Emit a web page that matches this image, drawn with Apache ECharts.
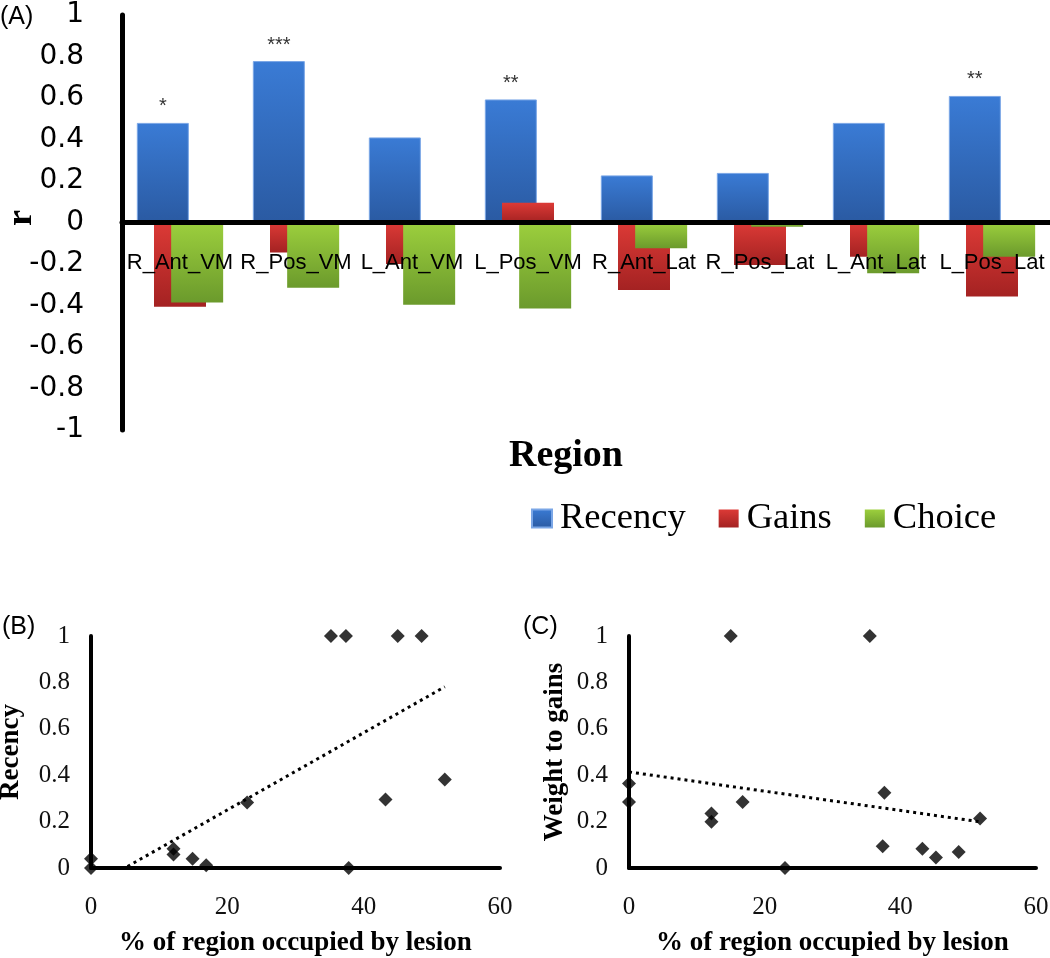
<!DOCTYPE html>
<html>
<head>
<meta charset="utf-8">
<script src="https://cdn.jsdelivr.net/npm/echarts@6/dist/echarts.min.js"></script>
<style>
html,body{margin:0;padding:0;background:#fff;}
#chart{width:1050px;height:958px;}
</style>
</head>
<body>
<div id="chart"></div>
<script>
// Panel A: correlation r by region
const categories = ['R_Ant_VM','R_Pos_VM','L_Ant_VM','L_Pos_VM','R_Ant_Lat','R_Pos_Lat','L_Ant_Lat','L_Pos_Lat'];
const recency = [0.48, 0.778, 0.41, 0.593, 0.227, 0.239, 0.48, 0.61];
const gains   = [-0.406, -0.144, -0.2, 0.095, -0.325, -0.205, -0.165, -0.357];
const choice  = [-0.386, -0.315, -0.396, -0.414, -0.124, -0.021, -0.245, -0.165];
const stars   = ['*', '***', '', '**', '', '', '', '**'];

// Panel B: recency vs % of region occupied by lesion
const lesionB  = [0, 0, 12.1, 12.1, 14.9, 16.9, 22.9, 35.2, 37.4, 37.8, 43.2, 45.0, 48.5, 51.9];
const recencyB = [0.04, 0, 0.083, 0.058, 0.04, 0.012, 0.282, 1, 1, 0, 0.295, 1, 1, 0.381];
const trendBx  = [0, 51.9];
const trendBy  = [-0.0825, 0.781];

// Panel C: weight to gains vs % of region occupied by lesion
const lesionC  = [0, 0, 12.15, 12.15, 15.0, 16.75, 23.0, 35.5, 37.4, 37.65, 43.25, 45.25, 48.6, 51.75];
const weightC  = [0.364, 0.285, 0.235, 0.199, 1, 0.285, 0, 1, 0.094, 0.324, 0.083, 0.045, 0.069, 0.213];
const trendCx  = [0, 51.8];
const trendCy  = [0.414, 0.199];

const SERIF = '"Liberation Serif", "Times New Roman", serif';
const SANS = '"Liberation Sans", Arial, sans-serif';
const DSANS = '"DejaVu Sans", sans-serif';

function grad(top, bottom) {
  return new echarts.graphic.LinearGradient(0, 0, 0, 1, [
    {offset: 0, color: top}, {offset: 1, color: bottom}
  ]);
}
function pairs(xs, ys) { return xs.map((x, i) => [x, ys[i]]); }

const chart = echarts.init(document.getElementById('chart'), null, {renderer: 'canvas'});

const scatterXAxis = (gi) => ({
  type: 'value', gridIndex: gi, min: 0, max: 60, interval: 20,
  name: '% of region occupied by lesion', nameLocation: 'middle', nameGap: 62,
  nameTextStyle: {fontFamily: SERIF, fontWeight: 'bold', fontSize: 27, color: '#000'},
  axisLine: {show: true, onZero: false, lineStyle: {color: '#000', width: 4}},
  axisTick: {show: false},
  axisLabel: {fontFamily: SERIF, fontSize: 25, color: '#111', margin: 27},
  splitLine: {show: false}
});
const scatterYAxis = (gi, name, gap) => ({
  type: 'value', gridIndex: gi, min: 0, max: 1, interval: 0.2,
  name: name, nameLocation: 'middle', nameRotate: 90, nameGap: gap,
  nameTextStyle: {fontFamily: SERIF, fontWeight: 'bold', fontSize: 27, color: '#000'},
  axisLine: {show: true, onZero: false, lineStyle: {color: '#000', width: 4}},
  axisTick: {show: false},
  axisLabel: {fontFamily: SERIF, fontSize: 25, color: '#111', margin: 21},
  splitLine: {show: false}
});

const option = {
  backgroundColor: '#fff',
  animation: false,
  grid: [
    {left: 122, right: 0, top: 15, bottom: 528, containLabel: false, outerBoundsMode: 'none'},
    {left: 91, right: 550, top: 636, bottom: 90, containLabel: false, outerBoundsMode: 'none'},
    {left: 629, right: 14, top: 636, bottom: 90, containLabel: false, outerBoundsMode: 'none'}
  ],
  legend: {
    data: ['Recency', 'Gains', 'Choice'],
    left: 526, top: 495,
    icon: 'rect', itemWidth: 20, itemHeight: 18, itemGap: 33,
    textStyle: {fontFamily: SERIF, fontSize: 36.5, color: '#000', padding: [0, 0, 0, 3]}
  },
  graphic: [
    {type: 'text', left: 0, top: 5, style: {text: '(A)', font: '25px ' + SANS, fill: '#000'}},
    {type: 'text', left: 2, top: 615, style: {text: '(B)', font: '25px ' + SANS, fill: '#000'}},
    {type: 'text', left: 523, top: 615, style: {text: '(C)', font: '25px ' + SANS, fill: '#000'}},
    {type: 'text', left: 509, top: 437, style: {text: 'Region', font: 'bold 38px ' + SERIF, fill: '#000'}},
    {type: 'text', x: 22, y: 218, rotation: Math.PI / 2,
      style: {text: 'r', font: 'bold 36px ' + SERIF, fill: '#000', textAlign: 'center', textVerticalAlign: 'middle'}}
  ],
  xAxis: [
    {
      type: 'category', gridIndex: 0, data: categories, z: 10,
      position: 'bottom', offset: -207.5,
      axisLine: {show: true, onZero: false, lineStyle: {color: '#000', width: 5}},
      axisTick: {show: false},
      axisLabel: {fontFamily: SANS, fontSize: 22, color: '#000', margin: 29, interval: 0},
      splitLine: {show: false}
    },
    scatterXAxis(1),
    scatterXAxis(2)
  ],
  yAxis: [
    {
      type: 'value', gridIndex: 0, min: -1, max: 1, interval: 0.2,
      axisLine: {show: true, onZero: false, lineStyle: {color: '#000', width: 5}},
      axisTick: {show: false},
      axisLabel: {fontFamily: DSANS, fontSize: 28, color: '#000', margin: 38,
        formatter: (v) => String(Math.round(v * 10) / 10)},
      splitLine: {show: false}
    },
    scatterYAxis(1, 'Recency', 66),
    scatterYAxis(2, 'Weight to gains', 60)
  ],
  series: [
    {
      name: 'Recency', type: 'bar', xAxisIndex: 0, yAxisIndex: 0,
      data: recency, barWidth: 52, barGap: '-67%',
      itemStyle: {color: grad('#3a7bd5', '#2a5aa2'), borderColor: '#7aa6e6', borderWidth: 1},
      label: {show: true, position: 'top', distance: 6, fontFamily: SANS, fontSize: 20, color: '#333',
        formatter: (p) => stars[p.dataIndex]}
    },
    {
      name: 'Gains', type: 'bar', xAxisIndex: 0, yAxisIndex: 0,
      data: gains, barWidth: 52, barGap: '-67%',
      itemStyle: {color: grad('#dc3a36', '#a42222')}
    },
    {
      name: 'Choice', type: 'bar', xAxisIndex: 0, yAxisIndex: 0,
      data: choice, barWidth: 52, barGap: '-67%',
      itemStyle: {color: grad('#9ccf3d', '#6b9a2c')}
    },
    {
      name: 'B points', type: 'scatter', xAxisIndex: 1, yAxisIndex: 1,
      data: pairs(lesionB, recencyB), symbol: 'diamond', symbolSize: 14,
      itemStyle: {color: '#000'}, z: 5
    },
    {
      name: 'B trend', type: 'line', xAxisIndex: 1, yAxisIndex: 1,
      data: pairs(trendBx, trendBy), symbol: 'none', clip: true,
      lineStyle: {color: '#000', width: 3, type: [3, 4]}
    },
    {
      name: 'C points', type: 'scatter', xAxisIndex: 2, yAxisIndex: 2,
      data: pairs(lesionC, weightC), symbol: 'diamond', symbolSize: 14,
      itemStyle: {color: '#000'}, z: 5
    },
    {
      name: 'C trend', type: 'line', xAxisIndex: 2, yAxisIndex: 2,
      data: pairs(trendCx, trendCy), symbol: 'none', clip: true,
      lineStyle: {color: '#000', width: 3, type: [3, 4]}
    }
  ]
};
chart.setOption(option);
</script>
</body>
</html>
